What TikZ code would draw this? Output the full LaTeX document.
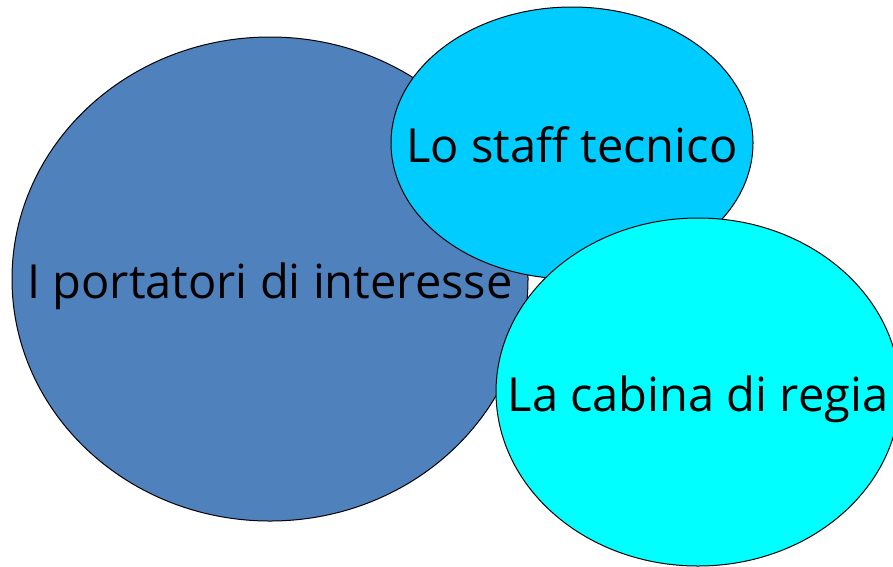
\documentclass[tikz,border=0pt]{standalone}
\usepackage{fontspec}
\setmainfont{Open Sans}
\usetikzlibrary{shapes.geometric}

\definecolor{bigblue}{HTML}{4F81BD}
\definecolor{skyblue}{HTML}{00CCFF}
\definecolor{aqua}{HTML}{00FFFF}

\begin{document}
\begin{tikzpicture}[x=1pt, y=-1pt,
    bubble/.style={ellipse, draw=black, line width=1pt, inner sep=0pt},
    tag/.style={font=\fontsize{47}{54}\selectfont, inner sep=0pt, anchor=base, yshift=-19pt}]
    \useasboundingbox (0,0) rectangle (893,566);

    % Stakeholders
    \node[bubble, fill=bigblue, minimum width=516pt, minimum height=484pt] (portatori) at (270,279) {};
    \node[tag] (portatoritxt) at (portatori.center) {I portatori di interesse};

    % Technical staff
    \node[bubble, fill=skyblue, minimum width=362pt, minimum height=272pt] (staff) at (572,143) {};
    \node[tag] (stafftxt) at (staff.center) {Lo staff tecnico};

    % Control room
    \node[bubble, fill=aqua, minimum width=404pt, minimum height=348pt] (cabina) at (698,392) {};
    \node[tag] (cabinatxt) at (cabina.center) {La cabina di regia};

\end{tikzpicture}
\end{document}
